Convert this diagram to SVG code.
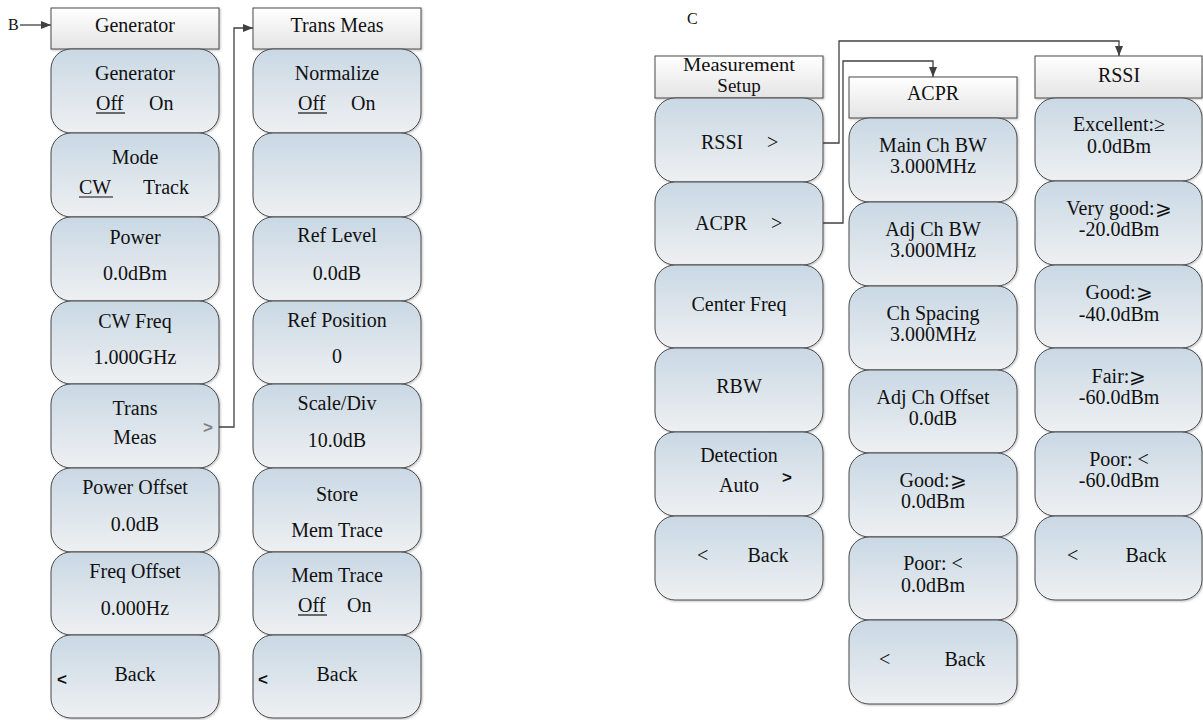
<svg xmlns="http://www.w3.org/2000/svg" width="1203" height="720" viewBox="0 0 1203 720">
<defs>
<linearGradient id="gBtn" x1="0" y1="0" x2="0" y2="1">
<stop offset="0" stop-color="#c9d8e4"/>
<stop offset="1" stop-color="#eef0f2"/>
</linearGradient>
<linearGradient id="gHdr" x1="0" y1="0" x2="0" y2="1">
<stop offset="0" stop-color="#ffffff"/>
<stop offset="1" stop-color="#e4e4e4"/>
</linearGradient>
<filter id="sh" x="-5%" y="-5%" width="112%" height="115%">
<feDropShadow dx="1" dy="1" stdDeviation="0.8" flood-color="#000" flood-opacity="0.25"/>
</filter>
<marker id="arr" viewBox="0 0 10 8" refX="10" refY="4" markerWidth="10" markerHeight="8" markerUnits="userSpaceOnUse" orient="auto">
<path d="M0,0 L10,4 L0,8 Z" fill="#404040"/>
</marker>
</defs>
<style>
.btn{fill:url(#gBtn);stroke:#4a4a4a;stroke-width:1;filter:url(#sh)}
.hdr{fill:url(#gHdr);stroke:#4a4a4a;stroke-width:1;filter:url(#sh)}
.t{font-family:'Liberation Serif','DejaVu Serif',serif;font-size:20px;fill:#111}
.c{text-anchor:middle}
.lbl{font-size:16px}
.ms{font-size:18px}
.ms2{font-size:19px}
.bs{font-family:'Liberation Sans','DejaVu Sans',sans-serif;font-weight:bold;font-size:17px;fill:#111}
.gr{fill:#808080}
.ul{stroke:#111;stroke-width:1.2}
.conn{fill:none;stroke:#404040;stroke-width:1.3}
</style>

<g id="connectors">
<path class="conn" d="M20,25 H51" marker-end="url(#arr)"/>
<path class="conn" d="M219,427 H234 V28 H253" marker-end="url(#arr)"/>
<path class="conn" d="M823,143 H839 V41 H1119 V56" marker-end="url(#arr)"/>
<path class="conn" d="M823,223 H843 V61 H933 V77" marker-end="url(#arr)"/>
</g>

<text class="t lbl" x="8" y="30">B</text>
<text class="t lbl" x="687" y="24">C</text>

<!-- Column 1: Generator -->
<g id="gen-hdr"><rect class="hdr" x="51" y="8" width="168" height="41"/><text class="t c" x="135" y="32">Generator</text></g>
<g id="gen-1"><rect class="btn" x="51" y="49" width="168" height="84" rx="20"/><text class="t c" x="135" y="80">Generator</text><text class="t" x="96" y="110">Off</text><text class="t" x="149" y="110">On</text><line class="ul" x1="96" y1="113" x2="125" y2="113"/></g>
<g id="gen-2"><rect class="btn" x="51" y="133" width="168" height="84" rx="20"/><text class="t c" x="135" y="164">Mode</text><text class="t" x="79" y="194">CW</text><text class="t" x="143" y="194">Track</text><line class="ul" x1="79" y1="197" x2="113" y2="197"/></g>
<g id="gen-3"><rect class="btn" x="51" y="217" width="168" height="84" rx="20"/><text class="t c" x="135" y="244">Power</text><text class="t c" x="135" y="280">0.0dBm</text></g>
<g id="gen-4"><rect class="btn" x="51" y="301" width="168" height="83" rx="20"/><text class="t c" x="135" y="328">CW Freq</text><text class="t c" x="135" y="364">1.000GHz</text></g>
<g id="gen-5"><rect class="btn" x="51" y="384" width="168" height="84" rx="20"/><text class="t c" x="135" y="415">Trans</text><text class="t c" x="135" y="444">Meas</text><text class="bs gr" x="203" y="433">&gt;</text></g>
<g id="gen-6"><rect class="btn" x="51" y="468" width="168" height="84" rx="20"/><text class="t c" x="135" y="494">Power Offset</text><text class="t c" x="135" y="531">0.0dB</text></g>
<g id="gen-7"><rect class="btn" x="51" y="552" width="168" height="83" rx="20"/><text class="t c" x="135" y="578">Freq Offset</text><text class="t c" x="135" y="615">0.000Hz</text></g>
<g id="gen-8"><rect class="btn" x="51" y="635" width="168" height="83" rx="20"/><text class="bs" x="57" y="685">&lt;</text><text class="t c" x="135" y="681">Back</text></g>

<!-- Column 2: Trans Meas -->
<g id="tm-hdr"><rect class="hdr" x="253" y="8" width="168" height="41"/><text class="t c" x="337" y="32">Trans Meas</text></g>
<g id="tm-1"><rect class="btn" x="253" y="49" width="168" height="84" rx="20"/><text class="t c" x="337" y="80">Normalize</text><text class="t" x="298" y="110">Off</text><text class="t" x="351" y="110">On</text><line class="ul" x1="298" y1="113" x2="327" y2="113"/></g>
<g id="tm-2"><rect class="btn" x="253" y="133" width="168" height="84" rx="20"/></g>
<g id="tm-3"><rect class="btn" x="253" y="217" width="168" height="84" rx="20"/><text class="t c" x="337" y="242">Ref Level</text><text class="t c" x="337" y="280">0.0dB</text></g>
<g id="tm-4"><rect class="btn" x="253" y="301" width="168" height="83" rx="20"/><text class="t c" x="337" y="327">Ref Position</text><text class="t c" x="337" y="363">0</text></g>
<g id="tm-5"><rect class="btn" x="253" y="384" width="168" height="84" rx="20"/><text class="t c" x="337" y="410">Scale/Div</text><text class="t c" x="337" y="447">10.0dB</text></g>
<g id="tm-6"><rect class="btn" x="253" y="468" width="168" height="84" rx="20"/><text class="t c" x="337" y="501">Store</text><text class="t c" x="337" y="537">Mem Trace</text></g>
<g id="tm-7"><rect class="btn" x="253" y="552" width="168" height="83" rx="20"/><text class="t c" x="337" y="582">Mem Trace</text><text class="t" x="298" y="612">Off</text><text class="t" x="347" y="612">On</text><line class="ul" x1="298" y1="615" x2="327" y2="615"/></g>
<g id="tm-8"><rect class="btn" x="253" y="635" width="168" height="83" rx="20"/><text class="bs" x="258" y="685">&lt;</text><text class="t c" x="337" y="681">Back</text></g>

<!-- Column 3: Measurement Setup -->
<g id="ms-hdr"><rect class="hdr" x="655" y="56" width="168" height="42"/><text class="t c ms" x="739" y="71" textLength="112" lengthAdjust="spacingAndGlyphs">Measurement</text><text class="t c ms2" x="739" y="92">Setup</text></g>
<g id="ms-1"><rect class="btn" x="655" y="98" width="168" height="84" rx="20"/><text class="t" x="701" y="149">RSSI</text><text class="t" x="767" y="149">&gt;</text></g>
<g id="ms-2"><rect class="btn" x="655" y="182" width="168" height="83" rx="20"/><text class="t" x="695" y="230">ACPR</text><text class="t" x="771" y="230">&gt;</text></g>
<g id="ms-3"><rect class="btn" x="655" y="265" width="168" height="83" rx="20"/><text class="t c" x="739" y="311">Center Freq</text></g>
<g id="ms-4"><rect class="btn" x="655" y="348" width="168" height="84" rx="20"/><text class="t c" x="739" y="393">RBW</text></g>
<g id="ms-5"><rect class="btn" x="655" y="432" width="168" height="84" rx="20"/><text class="t c" x="739" y="462">Detection</text><text class="t c" x="739" y="492">Auto</text><text class="bs" x="782" y="483">&gt;</text></g>
<g id="ms-6"><rect class="btn" x="655" y="516" width="168" height="84" rx="20"/><text class="t" x="697" y="562">&lt;</text><text class="t c" x="768" y="562">Back</text></g>

<!-- Column 4: ACPR -->
<g id="acpr-hdr"><rect class="hdr" x="849" y="77" width="168" height="41"/><text class="t c" x="933" y="100">ACPR</text></g>
<g id="acpr-1"><rect class="btn" x="849" y="118" width="168" height="84" rx="20"/><text class="t c" x="933" y="152">Main Ch BW</text><text class="t c" x="933" y="173">3.000MHz</text></g>
<g id="acpr-2"><rect class="btn" x="849" y="202" width="168" height="84" rx="20"/><text class="t c" x="933" y="236">Adj Ch BW</text><text class="t c" x="933" y="257">3.000MHz</text></g>
<g id="acpr-3"><rect class="btn" x="849" y="286" width="168" height="84" rx="20"/><text class="t c" x="933" y="320">Ch Spacing</text><text class="t c" x="933" y="341">3.000MHz</text></g>
<g id="acpr-4"><rect class="btn" x="849" y="370" width="168" height="83" rx="20"/><text class="t c" x="933" y="404">Adj Ch Offset</text><text class="t c" x="933" y="425">0.0dB</text></g>
<g id="acpr-5"><rect class="btn" x="849" y="453" width="168" height="84" rx="20"/><text class="t c" x="933" y="487">Good:⩾</text><text class="t c" x="933" y="508">0.0dBm</text></g>
<g id="acpr-6"><rect class="btn" x="849" y="537" width="168" height="83" rx="20"/><text class="t c" x="933" y="570">Poor: &lt;</text><text class="t c" x="933" y="592">0.0dBm</text></g>
<g id="acpr-7"><rect class="btn" x="849" y="620" width="168" height="84" rx="20"/><text class="t" x="879" y="666">&lt;</text><text class="t c" x="965" y="666">Back</text></g>

<!-- Column 5: RSSI -->
<g id="rssi-hdr"><rect class="hdr" x="1035" y="56" width="167" height="42"/><text class="t c" x="1119" y="82">RSSI</text></g>
<g id="rssi-1"><rect class="btn" x="1035" y="98" width="167" height="83" rx="20"/><text class="t c" x="1119" y="131">Excellent:≥</text><text class="t c" x="1119" y="153">0.0dBm</text></g>
<g id="rssi-2"><rect class="btn" x="1035" y="181" width="167" height="84" rx="20"/><text class="t c" x="1119" y="215">Very good:⩾</text><text class="t c" x="1119" y="236">-20.0dBm</text></g>
<g id="rssi-3"><rect class="btn" x="1035" y="265" width="167" height="83" rx="20"/><text class="t c" x="1119" y="299">Good:⩾</text><text class="t c" x="1119" y="321">-40.0dBm</text></g>
<g id="rssi-4"><rect class="btn" x="1035" y="348" width="167" height="84" rx="20"/><text class="t c" x="1119" y="383">Fair:⩾</text><text class="t c" x="1119" y="404">-60.0dBm</text></g>
<g id="rssi-5"><rect class="btn" x="1035" y="432" width="167" height="84" rx="20"/><text class="t c" x="1119" y="466">Poor: &lt;</text><text class="t c" x="1119" y="487">-60.0dBm</text></g>
<g id="rssi-6"><rect class="btn" x="1035" y="516" width="167" height="84" rx="20"/><text class="t" x="1067" y="562">&lt;</text><text class="t c" x="1146" y="562">Back</text></g>
</svg>
